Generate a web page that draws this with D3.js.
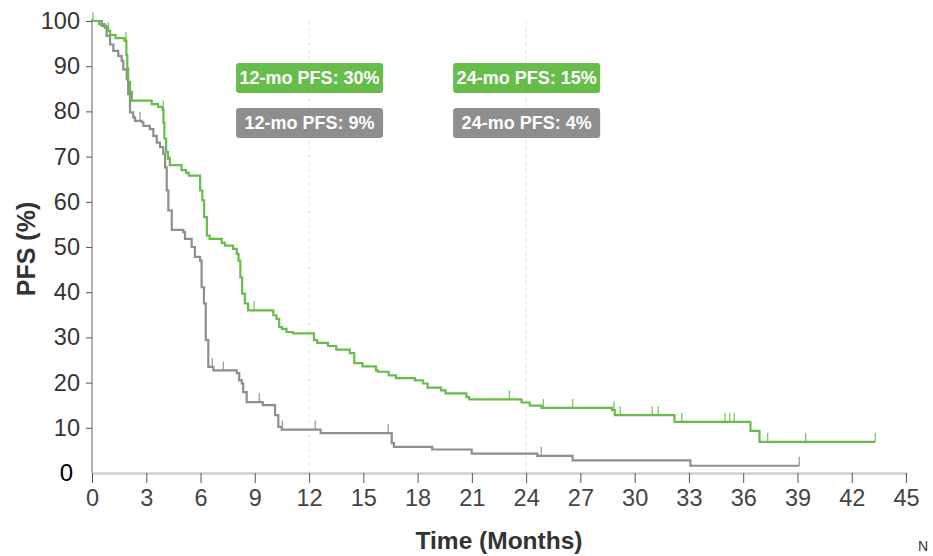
<!DOCTYPE html>
<html>
<head>
<meta charset="utf-8">
<script src="https://cdn.jsdelivr.net/npm/d3@7"></script>
<style>
  html, body { margin: 0; padding: 0; background: #fff; }
  svg { display: block; font-family: "Liberation Sans", Arial, sans-serif; }
</style>
</head>
<body>
<svg id="chart" width="933" height="556"></svg>
<script>
// Kaplan–Meier progression-free survival, two arms.
// Each step: [time in months, PFS % from that time on].
const greenSteps = [
  [0,100],[0.4,99.3],[0.7,98.5],[0.9,97.8],[1.0,96.9],[1.3,96.2],[1.8,95.6],
  [1.9,92.5],[1.95,89.5],[2.0,86.5],[2.1,84.3],[2.2,82.4],[3.3,81.6],[3.65,81.0],
  [3.9,80.4],[3.95,77.5],[4.0,74.0],[4.1,71.0],[4.2,69.5],[4.3,68.1],[4.95,67.0],
  [5.2,66.4],[5.35,65.8],[5.98,62.5],[6.1,60.3],[6.2,56.6],[6.35,52.5],[6.5,51.8],
  [7.17,50.9],[7.35,50.3],[7.8,49.6],[8.0,48.5],[8.1,47.0],[8.2,43.3],[8.3,39.7],
  [8.45,37.5],[8.63,36.0],[10.02,34.9],[10.2,34.1],[10.35,32.3],[10.5,31.9],
  [10.75,31.2],[11.1,30.9],[12.27,29.4],[12.45,28.8],[13.05,28.1],[13.5,27.3],
  [14.25,26.5],[14.5,24.3],[14.95,23.6],[15.7,22.7],[15.8,22.4],[16.4,21.6],
  [16.8,21.0],[17.85,20.5],[18.3,19.8],[18.55,18.9],[19.3,18.3],[19.55,17.6],
  [20.7,16.8],[20.85,16.3],[23.75,15.6],[24.2,14.9],[24.85,14.4],[28.75,13.9],
  [28.9,12.8],[32.2,11.3],[36.4,9.3],[36.9,6.9]
];
const greenEnd = 43.3;
const greenCensors = [0.05,0.9,1.88,3.94,4.3,8.96,23.07,24.95,26.57,28.86,29.2,
  30.97,31.3,32.6,35.0,35.25,35.5,37.35,39.45,43.3];

const graySteps = [
  [0,100],[0.54,98.9],[0.81,96.7],[1.0,94.8],[1.18,93.4],[1.45,92.3],[1.64,91.2],
  [1.73,89.3],[1.92,87.1],[2.0,83.8],[2.1,79.8],[2.28,78.7],[2.38,77.9],[2.75,77.6],
  [2.84,76.8],[3.2,76.1],[3.39,74.6],[3.58,73.1],[3.76,72.1],[3.94,70.6],[4.04,67.6],
  [4.13,62.5],[4.22,58.1],[4.41,53.8],[5.05,53.3],[5.14,51.8],[5.51,50.0],[5.69,47.8],
  [5.97,47.0],[6.06,41.1],[6.19,37.5],[6.29,29.4],[6.43,23.5],[6.71,22.7],[8.0,22.1],
  [8.14,20.5],[8.28,19.8],[8.36,17.9],[8.55,15.7],[9.44,15.0],[10.12,12.8],[10.3,10.2],
  [10.49,9.6],[12.64,8.8],[16.57,6.6],[16.69,5.8],[18.81,5.2],[20.99,4.3],[24.62,3.8],
  [26.57,2.8],[33.08,1.6]
];
const grayEnd = 39.1;
const grayCensors = [2.65,6.65,7.26,9.25,10.52,12.34,16.38,24.84,39.1];

// Landmark estimates shown above the curves
const landmarkMonths = [12, 24];
const greenLabels = ["12-mo PFS: 30%", "24-mo PFS: 15%"];
const grayLabels  = ["12-mo PFS: 9%",  "24-mo PFS: 4%"];

const xTicks = [0,3,6,9,12,15,18,21,24,27,30,33,36,39,42,45];
const yTicks = [10,20,30,40,50,60,70,80,90,100];

const GREEN = "#66bd4a";
const GRAY = "#8e8e8e";

const svg = d3.select("#chart");
const x = d3.scaleLinear().domain([0, 45]).range([92, 906]);
const y = d3.scaleLinear().domain([0, 100]).range([473, 21]);

// Landmark reference lines
svg.append("g").selectAll("line").data(landmarkMonths).join("line")
  .attr("x1", d => x(d)).attr("x2", d => x(d))
  .attr("y1", y(100)).attr("y2", y(0))
  .attr("stroke", "#e4e4e4").attr("stroke-width", 1)
  .attr("stroke-dasharray", "4,3");

// X axis
const xAxis = svg.append("g").attr("transform", `translate(0,${y(0)})`)
  .call(d3.axisBottom(x).tickValues(xTicks).tickSize(10).tickSizeOuter(0).tickPadding(6));
xAxis.select(".domain").attr("stroke", "#cfcfcf").attr("stroke-width", 2.5);
xAxis.selectAll(".tick line").attr("stroke", "#555");
xAxis.selectAll(".tick text").attr("fill", "#444").attr("font-size", 23.5)
  .attr("dy", "0.74em");

// Y axis
const yAxis = svg.append("g").attr("transform", `translate(${x(0)},0)`)
  .call(d3.axisLeft(y).tickValues(yTicks).tickSize(6).tickSizeOuter(0).tickPadding(6));
yAxis.select(".domain").attr("stroke", "#b0b0b0").attr("stroke-width", 2)
  .attr("d", `M0,${y(100) - 2}V${y(0)}`);
yAxis.selectAll(".tick line").attr("stroke", "#555");
yAxis.selectAll(".tick text").attr("fill", "#333").attr("font-size", 23.5);

svg.append("text").attr("x", 73).attr("y", y(0)).attr("dy", "0.35em")
  .attr("text-anchor", "end").attr("font-size", 24).attr("fill", "#000").text("0");

// Axis titles
svg.append("text")
  .attr("transform", `translate(35,${(y(0) + y(100)) / 2 + 2}) rotate(-90)`)
  .attr("text-anchor", "middle").attr("font-size", 25).attr("font-weight", "bold")
  .attr("fill", "#333").text("PFS (%)");
svg.append("text").attr("x", 499).attr("y", 549)
  .attr("text-anchor", "middle").attr("font-size", 24.5).attr("font-weight", "bold")
  .attr("fill", "#333").text("Time (Months)");
svg.append("text").attr("x", 918).attr("y", 551)
  .attr("font-size", 14).attr("fill", "#333").text("N");

// Survival curves
const line = d3.line().x(d => x(d[0])).y(d => y(d[1])).curve(d3.curveStepAfter);
function survivalAt(steps, t) {
  let s = steps[0][1];
  for (const [tt, v] of steps) { if (tt <= t) s = v; else break; }
  return s;
}
function drawArm(steps, end, censors, color) {
  const pts = steps.concat([[end, steps[steps.length - 1][1]]]);
  svg.append("path").datum(pts).attr("d", line)
    .attr("fill", "none").attr("stroke", color).attr("stroke-width", 2.2)
    .attr("stroke-linejoin", "miter");
  svg.append("g").selectAll("line").data(censors).join("line")
    .attr("x1", d => x(d)).attr("x2", d => x(d))
    .attr("y1", d => y(survivalAt(steps, d)))
    .attr("y2", d => y(survivalAt(steps, d)) - 9)
    .attr("stroke", color).attr("stroke-width", 1.3).attr("opacity", 0.85);
}
drawArm(graySteps, grayEnd, grayCensors, GRAY);
drawArm(greenSteps, greenEnd, greenCensors, GREEN);

// Landmark label boxes
function drawLabels(texts, color, top) {
  const g = svg.append("g").selectAll("g").data(texts).join("g")
    .attr("transform", (d, i) => `translate(${x(landmarkMonths[i])},${top})`);
  g.append("rect").attr("x", -73).attr("y", 0).attr("width", 147).attr("height", 30)
    .attr("rx", 3).attr("fill", color);
  g.append("text").attr("x", 0.5).attr("y", 15).attr("dy", "0.36em")
    .attr("text-anchor", "middle").attr("font-size", 18).attr("font-weight", "bold")
    .attr("fill", "#fff").text(d => d);
}
drawLabels(greenLabels, GREEN, 63);
drawLabels(grayLabels, GRAY, 108);
</script>
</body>
</html>
